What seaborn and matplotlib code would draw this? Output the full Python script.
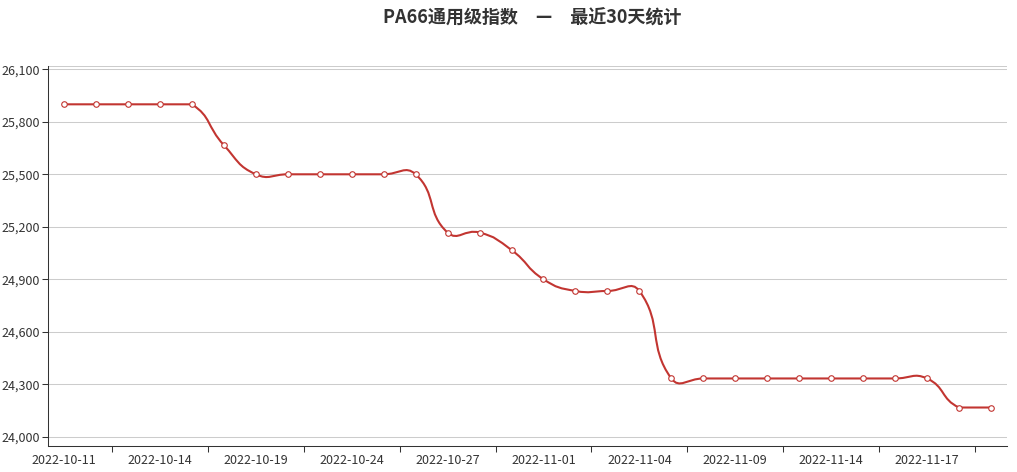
import numpy as np
import pandas as pd
import matplotlib
matplotlib.use('Agg')
import matplotlib.pyplot as plt
from matplotlib.path import Path
from matplotlib.patches import PathPatch
import seaborn as sns

# data
dates = ['2022-10-11', '2022-10-12', '2022-10-13', '2022-10-14',
         '2022-10-17', '2022-10-18', '2022-10-19', '2022-10-20', '2022-10-21',
         '2022-10-24', '2022-10-25', '2022-10-26', '2022-10-27', '2022-10-28',
         '2022-10-31', '2022-11-01', '2022-11-02', '2022-11-03', '2022-11-04',
         '2022-11-07', '2022-11-08', '2022-11-09', '2022-11-10', '2022-11-11',
         '2022-11-14', '2022-11-15', '2022-11-16', '2022-11-17', '2022-11-18',
         '2022-11-21']
index_values = [25900, 25900, 25900, 25900, 25900, 25667,
                25500, 25500, 25500, 25500, 25500, 25500,
                25167, 25167, 25067, 24900, 24833, 24833, 24833,
                24333, 24333, 24333, 24333, 24333, 24333, 24333, 24333, 24333,
                24167, 24167]
y_ticks = [24000, 24300, 24600, 24900, 25200, 25500, 25800, 26100]
title = 'PA66通用级指数　—　最近30天统计'

df = pd.DataFrame({'date': dates, 'value': index_values})

sns.set_style('white')
plt.rcParams['font.family'] = ['Noto Sans CJK SC', 'DejaVu Sans']

line_color = '#c23531'
axis_color = '#333333'

fig = plt.figure(figsize=(10.17, 4.72), dpi=100)
ax = fig.add_axes([48 / 1017, 26 / 472, 959 / 1017, 380 / 472])
ax.set_xlim(-0.5, len(dates) - 0.5)
ax.set_ylim(23947, 26119)

# markers (seaborn puts the string dates on a categorical axis 0..n-1)
sns.scatterplot(data=df, x='date', y='value', ax=ax, s=16, marker='o',
                facecolor='white', edgecolor=line_color, linewidth=0.8, zorder=4)
ax.set_xlim(-0.5, len(dates) - 0.5)
ax.set_ylim(23947, 26119)


# echarts-like smooth line, control points computed in pixel space
def smooth_path(pts, smooth=0.5):
    lo = pts.min(axis=0)
    hi = pts.max(axis=0)
    verts = [pts[0]]
    codes = [Path.MOVETO]
    cp0 = pts[0].copy()
    n = len(pts)
    for i in range(1, n):
        p = pts[i]
        prev = pts[i - 1]
        if i == n - 1:
            cp1 = p.copy()
            v = np.zeros(2)
            ratio = 0.5
        else:
            nxt = pts[i + 1]
            v = nxt - prev
            d0 = np.hypot(*(p - prev))
            d1 = np.hypot(*(p - nxt))
            ratio = d1 / (d0 + d1)
            cp1 = p - v * smooth * (1 - ratio)
        verts += [np.clip(cp0, lo, hi), np.clip(cp1, lo, hi), p]
        codes += [Path.CURVE4] * 3
        cp0 = p + v * smooth * ratio
    return np.array(verts), codes


xy = np.column_stack([np.arange(len(dates)), index_values]).astype(float)
pix = ax.transData.transform(xy)
verts, codes = smooth_path(pix)
verts = ax.transData.inverted().transform(verts)
ax.add_patch(PathPatch(Path(verts, codes), facecolor='none',
                       edgecolor=line_color, linewidth=1.5, zorder=3))

# grid
for yv in y_ticks + [26119]:
    ax.axhline(yv, color='#cccccc', linewidth=0.75, zorder=1)

# axes styling
for s in ['top', 'right']:
    ax.spines[s].set_visible(False)
for s in ['left', 'bottom']:
    ax.spines[s].set_color(axis_color)
    ax.spines[s].set_linewidth(0.75)

ax.set_yticks(y_ticks)
ax.set_yticklabels([f'{v:,}' for v in y_ticks])
ax.set_xticks(range(0, len(dates), 3))
ax.set_xticklabels(dates[::3])
ax.set_xticks(np.arange(1.5, len(dates), 3), minor=True)
ax.tick_params(axis='x', which='major', length=0, pad=6, labelsize=9,
               labelcolor=axis_color)
ax.tick_params(axis='x', which='minor', length=4, width=0.75,
               color=axis_color, direction='out', bottom=True)
ax.tick_params(axis='y', which='major', length=4, width=0.75, pad=2,
               color=axis_color, labelsize=9, labelcolor=axis_color, left=True)
ax.set_xlabel('')
ax.set_ylabel('')

fig.text(383 / 1017, 1 - 18 / 472, title, ha='left', va='center',
         fontsize=13, fontweight='bold', color=axis_color)

fig.savefig('out.png', dpi=100)
